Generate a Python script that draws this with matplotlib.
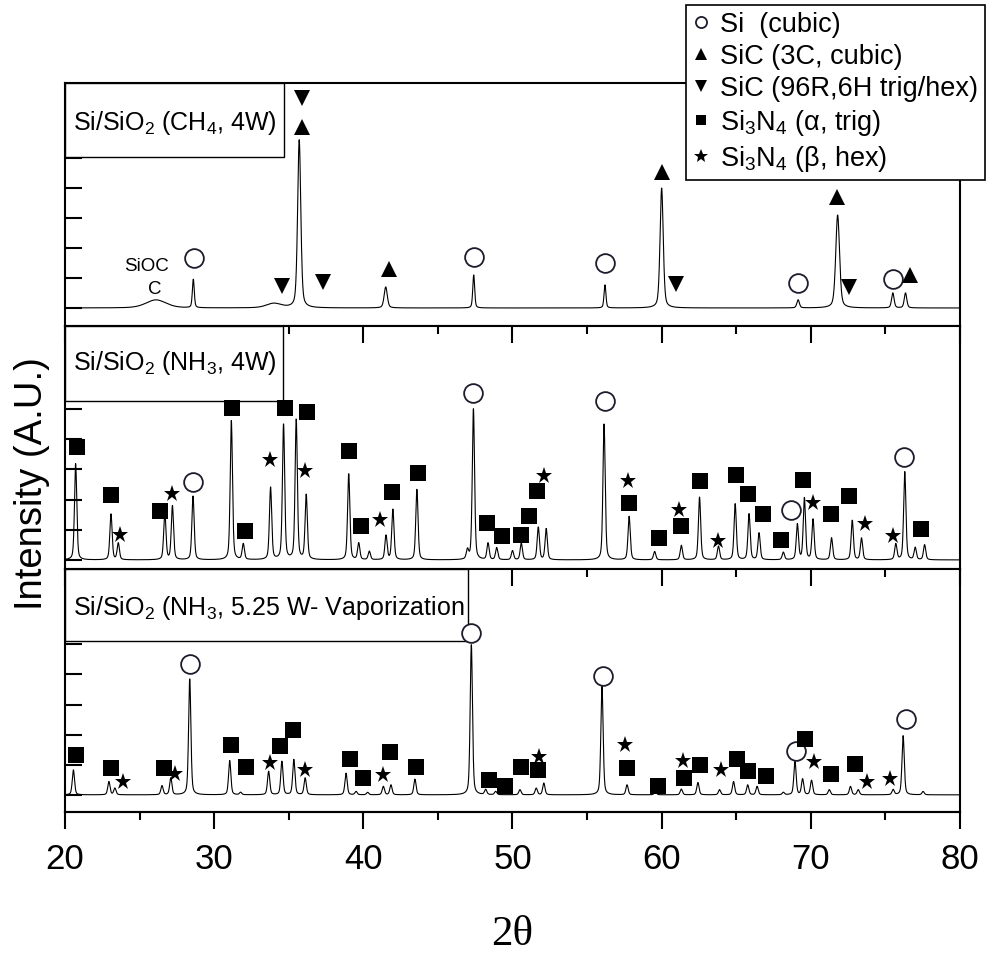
import numpy as np
import matplotlib
matplotlib.use("Agg")
import matplotlib.pyplot as plt
from matplotlib.lines import Line2D
from matplotlib.patches import Rectangle

plt.rcParams['font.family'] = ['Liberation Sans', 'DejaVu Sans']
plt.rcParams['mathtext.default'] = 'regular'

# Positions (2theta), hauteurs et largeurs des pics
top_pos = [26.1, 28.6, 34.0, 35.7, 41.5, 47.4, 56.2, 60.0, 69.15, 71.8, 75.5, 76.35]
top_h = [0.27, 0.95, 0.15, 5.6, 0.7, 1.1, 0.77, 4.0, 0.27, 3.1, 0.5, 0.5]
top_w = [1.6, 0.15, 1.2, 0.25, 0.25, 0.15, 0.15, 0.25, 0.2, 0.3, 0.2, 0.2]

mid_pos = [20.71, 23.08, 23.57, 26.69, 27.2, 28.58, 31.15, 31.95, 33.78, 34.65,
           35.5, 36.17, 39.02, 39.69, 40.4, 41.52, 41.98, 43.59, 46.98, 47.38,
           48.36, 48.94, 50.0, 50.59, 51.73, 52.26, 56.14, 57.82, 59.53, 61.32,
           62.54, 63.81, 64.93, 65.86, 66.53, 68.16, 69.1, 69.57, 70.15, 71.39,
           72.78, 73.4, 75.7, 76.3, 77.0, 77.63]
mid_h = [3.19, 1.52, 0.55, 1.55, 1.78, 2.11, 4.61, 0.52, 2.39, 4.48,
         4.64, 2.14, 2.85, 0.55, 0.28, 0.8, 1.67, 2.34, 0.3, 5.0,
         0.55, 0.4, 0.3, 0.55, 1.08, 1.03, 4.5, 1.44, 0.28, 0.48,
         2.08, 0.45, 1.86, 1.52, 0.89, 0.25, 1.17, 2.04, 1.34, 0.73,
         1.31, 0.72, 0.52, 2.92, 0.4, 0.5]

bot_pos = [20.56, 22.94, 23.34, 26.5, 27.09, 28.36, 31.04, 31.77, 33.65, 34.54,
           35.34, 36.1, 38.84, 39.51, 40.29, 41.34, 41.85, 43.46, 47.24, 48.2,
           48.87, 50.5, 51.59, 52.1, 56.0, 57.68, 59.58, 61.32, 62.43, 63.88,
           64.82, 65.77, 66.4, 68.16, 68.94, 69.45, 70.05, 71.24, 72.66, 73.18,
           75.52, 76.19, 77.53]
bot_h = [0.83, 0.44, 0.22, 0.3, 0.56, 3.86, 1.14, 0.08, 0.78, 1.11,
         1.17, 0.56, 0.72, 0.11, 0.08, 0.28, 0.33, 0.52, 5.0, 0.17,
         0.11, 0.17, 0.22, 0.39, 3.61, 0.33, 0.11, 0.19, 0.41, 0.17,
         0.44, 0.33, 0.28, 0.08, 1.11, 0.52, 0.48, 0.17, 0.28, 0.17,
         0.17, 1.97, 0.11]

# Symboles d'indexation : (phase, 2theta, hauteur)
top_marks = [("si", 28.65, 1.66), ("sic6h", 34.56, 0.74), ("sic6h", 37.28, 0.88),
             ("sic6h", 35.9, 6.99), ("sic3c", 35.9, 6.04), ("sic3c", 41.7, 1.29),
             ("si", 47.42, 1.69), ("si", 56.19, 1.49), ("sic3c", 60.02, 4.52),
             ("sic6h", 60.98, 0.79), ("si", 69.12, 0.84), ("sic3c", 71.73, 3.71),
             ("sic6h", 72.58, 0.69), ("si", 75.52, 0.96), ("sic3c", 76.68, 1.1)]

mid_marks = [("a", 20.82, 3.74), ("a", 23.06, 2.14), ("b", 23.68, 0.83),
             ("a", 26.35, 1.61), ("b", 27.2, 2.19), ("si", 28.58, 2.59),
             ("a", 31.19, 5.03), ("a", 32.09, 0.97), ("b", 33.76, 3.3),
             ("a", 34.76, 5.03), ("a", 36.21, 4.89), ("b", 36.12, 2.94),
             ("a", 39.06, 3.61), ("a", 39.85, 1.14), ("b", 41.14, 1.31),
             ("a", 41.92, 2.25), ("a", 43.68, 2.89), ("si", 47.38, 5.52),
             ("a", 48.31, 1.22), ("a", 49.32, 0.78), ("a", 50.55, 0.81),
             ("a", 51.1, 1.44), ("a", 51.66, 2.28), ("b", 52.1, 2.78),
             ("si", 56.19, 5.25), ("b", 57.75, 2.61), ("a", 57.84, 1.89),
             ("a", 59.8, 0.72), ("a", 61.29, 1.14), ("b", 61.14, 1.67),
             ("a", 62.58, 2.61), ("b", 63.81, 0.64), ("a", 64.97, 2.83),
             ("a", 65.82, 2.19), ("a", 66.82, 1.53), ("a", 67.98, 0.67),
             ("si", 68.65, 1.67), ("a", 69.5, 2.64), ("b", 70.17, 1.89),
             ("a", 71.35, 1.53), ("a", 72.58, 2.11), ("b", 73.62, 1.2),
             ("b", 75.52, 0.8), ("si", 76.23, 3.42), ("a", 77.41, 1.03)]

bot_marks = [("a", 20.74, 1.33), ("a", 23.06, 0.89), ("b", 23.86, 0.44),
             ("a", 26.64, 0.89), ("b", 27.36, 0.7), ("si", 28.36, 4.33),
             ("a", 31.15, 1.67), ("a", 32.15, 0.92), ("b", 33.71, 1.06),
             ("a", 34.43, 1.63), ("a", 35.27, 2.17), ("b", 36.12, 0.81),
             ("a", 39.13, 1.19), ("a", 39.95, 0.56), ("b", 41.34, 0.67),
             ("a", 41.81, 1.41), ("a", 43.52, 0.94), ("si", 47.24, 5.39),
             ("a", 48.43, 0.48), ("a", 49.5, 0.31), ("a", 50.6, 0.94),
             ("a", 51.73, 0.83), ("b", 51.77, 1.26), ("si", 56.05, 3.94),
             ("b", 57.57, 1.64), ("a", 57.68, 0.89), ("a", 59.75, 0.31),
             ("b", 61.42, 1.13), ("a", 61.52, 0.56), ("a", 62.58, 0.98),
             ("b", 63.97, 0.81), ("a", 65.04, 1.2), ("a", 65.82, 0.78),
             ("a", 66.98, 0.63), ("si", 68.98, 1.44), ("a", 69.6, 1.86),
             ("b", 70.21, 1.09), ("a", 71.35, 0.7), ("a", 72.99, 1.02),
             ("b", 73.78, 0.44), ("b", 75.3, 0.53), ("si", 76.41, 2.52)]

panel_labels = ["Si/SiO$_2$ (CH$_4$, 4W)",
                "Si/SiO$_2$ (NH$_3$, 4W)",
                "Si/SiO$_2$ (NH$_3$, 5.25 W- Vaporization"]
legend_labels = ["Si  (cubic)", "SiC (3C, cubic)", "SiC (96R,6H trig/hex)",
                 "Si$_3$N$_4$ (α, trig)", "Si$_3$N$_4$ (β, hex)"]

STYLES = {
    "si": dict(marker='o', ms=13.5, mfc='white', mec='#1c1c2c', mew=1.3),
    "sic3c": dict(marker='^', ms=12, mfc='k', mec='k', mew=0),
    "sic6h": dict(marker='v', ms=12, mfc='k', mec='k', mew=0),
    "a": dict(marker='s', ms=11, mfc='k', mec='k', mew=0),
    "b": dict(marker='*', ms=12.5, mfc='k', mec='k', mew=0),
}
LEG_MS = {"si": 8, "sic3c": 9, "sic6h": 9, "a": 7, "b": 10}

two_theta = np.linspace(20, 80, 5000)


def pattern(pos, h, w):
    # profil pseudo-Voigt pour chaque pic
    y = np.zeros_like(two_theta)
    for p, a, f in zip(pos, h, w):
        d = (two_theta - p) / (f / 2)
        y += a * (0.4 / (1 + d ** 2) + 0.6 * np.exp(-np.log(2) * d ** 2))
    return y


curves = [pattern(top_pos, top_h, top_w),
          pattern(mid_pos, mid_h, [0.18] * len(mid_pos)),
          pattern(bot_pos, bot_h, [0.18] * len(bot_pos))]
marks = [top_marks, mid_marks, bot_marks]
ylims = [(-0.6, 7.5), (-0.3, 7.75), (-0.57, 7.5)]
boxes = [(0.245, 0.695, 0.835), (0.2436, 0.693, 0.846), (0.450, 0.705, 0.84)]

fig = plt.figure(figsize=(9.87, 9.57), dpi=100)
gs = fig.add_gridspec(3, 1, left=0.0659, right=0.9726, top=0.9133,
                      bottom=0.1515, hspace=0)
axes = [fig.add_subplot(gs[i]) for i in range(3)]

for i, ax in enumerate(axes):
    ax.plot(two_theta, curves[i], color='k', lw=0.8, zorder=2)
    for phase, x, y in marks[i]:
        ax.plot(x, y, ls='none', zorder=6, clip_on=False, **STYLES[phase])
    ax.set_xlim(20, 80)
    ax.set_ylim(*ylims[i])
    ax.set_yticks(range(8))
    ax.set_yticklabels([])
    ax.tick_params(axis='y', direction='in', length=12, width=1.5, left=True, right=False)
    ax.set_xticks(np.arange(20, 81, 10))
    ax.set_xticks(np.arange(25, 80, 10), minor=True)
    ax.tick_params(axis='x', which='both', direction='in', width=1.5,
                   bottom=False, top=(i > 0), labelbottom=False)
    ax.tick_params(axis='x', which='major', length=12)
    ax.tick_params(axis='x', which='minor', length=6)
    for sp in ax.spines.values():
        sp.set_linewidth(1.5)

    w, y0, ty = boxes[i]
    ax.add_patch(Rectangle((0, y0), w, 1 - y0, transform=ax.transAxes,
                           facecolor='white', edgecolor='k', lw=1.0, zorder=4))
    ax.text(0.009, ty, panel_labels[i], transform=ax.transAxes, fontsize=18,
            va='center', ha='left', zorder=5)

axes[0].text(25.46, 1.38, "SiOC", fontsize=13.5, ha='center', va='center')
axes[0].text(26.02, 0.6, "C", fontsize=13.5, ha='center', va='center')

# axe du bas avec graduations vers l'extérieur
sec = axes[2].secondary_xaxis('bottom')
sec.set_xticks(np.arange(20, 81, 10))
sec.set_xticks(np.arange(25, 80, 10), minor=True)
sec.tick_params(which='both', direction='out', width=1.5, pad=10)
sec.tick_params(which='major', length=12)
sec.tick_params(which='minor', length=6)
sec.spines['bottom'].set_linewidth(1.5)
for lab in sec.get_xticklabels():
    lab.set_fontsize(25)

fig.text(512 / 987, 1 - 935 / 957, "2θ", family=['Liberation Serif', 'DejaVu Serif'],
         fontsize=31, ha='center', va='center')
fig.text(32 / 987, 1 - 484 / 957, "Intensity (A.U.)", fontsize=27.5, rotation=90,
         ha='center', va='center')

handles = [Line2D([], [], ls='none', **dict(STYLES[k], ms=LEG_MS[k]))
           for k in ["si", "sic3c", "sic6h", "a", "b"]]
leg = fig.legend(handles, legend_labels, loc='upper right',
                 bbox_to_anchor=(985 / 987, 1 - 5 / 957), frameon=True,
                 fancybox=False, edgecolor='k', framealpha=1, fontsize=19.5,
                 handlelength=0.6, handletextpad=0.4, borderpad=0.25,
                 labelspacing=0.22, borderaxespad=0)
leg.get_frame().set_linewidth(1.2)

fig.savefig("out.png", dpi=100)
